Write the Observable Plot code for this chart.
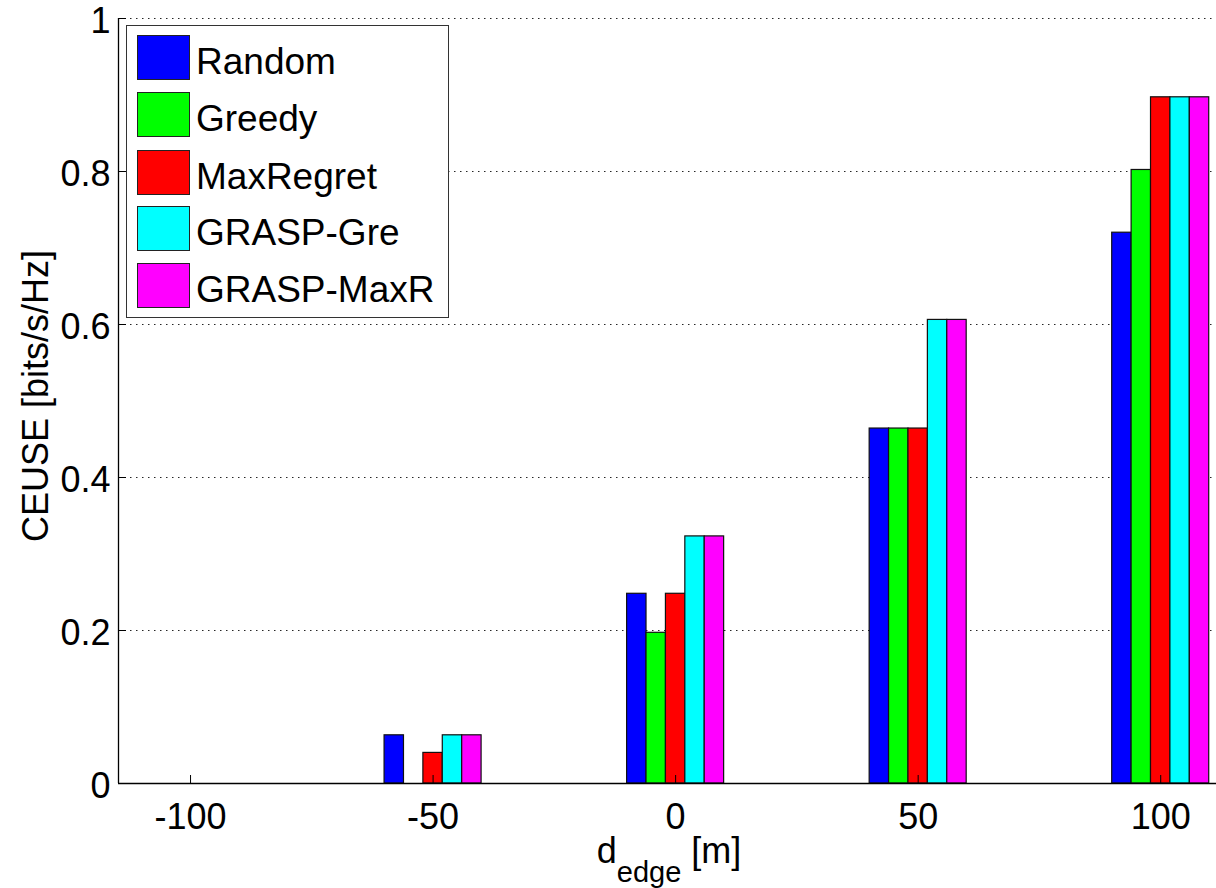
<!DOCTYPE html>
<html>
<head>
<meta charset="utf-8">
<script src="https://cdn.jsdelivr.net/npm/d3@7"></script>
<script src="https://cdn.jsdelivr.net/npm/@observablehq/plot@0.6"></script>
<style>
  html, body { margin: 0; padding: 0; background: #fff; }
  #wrap { position: relative; width: 1216px; height: 888px; overflow: hidden; font-family: "Liberation Sans", Arial, sans-serif; }
  #legend { position: absolute; left: 126px; top: 25px; width: 321px; height: 291px; border: 1.5px solid #333; background: #fff; box-sizing: content-box; }
  .item { position: absolute; left: 10px; height: 45px; display: flex; align-items: center; }
  .sw { width: 51px; height: 43px; border: 1px solid #222; margin-right: 6px; }
  .lab { font-size: 37px; color: #000; line-height: 1; position: relative; top: 4px; }
</style>
</head>
<body>
<div id="wrap"></div>
<script>
// ---- data ----
const dEdge = [-100, -50, 0, 50, 100];
const seriesNames = ["Random", "Greedy", "MaxRegret", "GRASP-Gre", "GRASP-MaxR"];
const seriesColors = ["#0000ff", "#00ff00", "#ff0000", "#00ffff", "#ff00ff"];
const random    = [0, 0.063, 0.248, 0.464, 0.720];
const greedy    = [0, 0,     0.197, 0.464, 0.802];
const maxRegret = [0, 0.040, 0.248, 0.464, 0.897];
const graspGre  = [0, 0.063, 0.323, 0.606, 0.897];
const graspMaxR = [0, 0.063, 0.323, 0.606, 0.897];
const yTicks = [0, 0.2, 0.4, 0.6, 0.8, 1];
const yTickLabels = ["0", "0.2", "0.4", "0.6", "0.8", "1"];
const xTicks = [-100, -50, 0, 50, 100];
const xTickLabels = ["-100", "-50", "0", "50", "100"];
const xDomain = [-114.85, 111.5];
const yDomain = [0, 1];
const barWidth = 4; // data units per bar
const yLabel = "CEUSE [bits/s/Hz]";

const allSeries = [random, greedy, maxRegret, graspGre, graspMaxR];
const bars = [];
allSeries.forEach((vals, i) => {
  vals.forEach((v, j) => {
    bars.push({
      series: seriesNames[i],
      d: dEdge[j],
      value: v,
      x1: dEdge[j] + (i - 2.5) * barWidth,
      x2: dEdge[j] + (i - 1.5) * barWidth
    });
  });
});

const chart = Plot.plot({
  width: 1216,
  height: 888,
  marginLeft: 118,
  marginRight: 0,
  marginTop: 18,
  marginBottom: 105,
  style: { fontFamily: "'Liberation Sans', Arial, sans-serif", fontSize: "36px", color: "#000", background: "#fff" },
  x: { type: "linear", domain: xDomain },
  y: { domain: yDomain },
  color: { domain: seriesNames, range: seriesColors },
  marks: [
    Plot.gridY(yTicks.slice(1), { stroke: "#000", strokeOpacity: 0.85, strokeDasharray: "1.5,4.5", strokeWidth: 1 }),
    Plot.rectY(bars, { x1: "x1", x2: "x2", y: "value", fill: "series", stroke: "#111", strokeWidth: 1.2 }),
    Plot.ruleX([xDomain[0]], { stroke: "#000", strokeWidth: 1.3 }),
    Plot.ruleY([0], { stroke: "#000", strokeWidth: 1.3 }),
    // inward ticks
    Plot.axisY(yTicks, { tickSize: 8, dx: 8, tickFormat: () => "", label: null, stroke: "#000" }),
    Plot.axisX(xTicks, { tickSize: 8, dy: -8, tickFormat: () => "", label: null, stroke: "#000" }),
    // tick labels
    Plot.axisY(yTicks, { tickSize: 0, tickPadding: 8, dy: 3, tickFormat: (d) => yTickLabels[yTicks.indexOf(d)], label: null, fontSize: 36 }),
    Plot.axisX(xTicks, { tickSize: 0, tickPadding: 20, tickFormat: (d) => xTickLabels[xTicks.indexOf(d)], label: null, fontSize: 36 })
  ]
});

const wrap = document.getElementById("wrap");
wrap.appendChild(chart);

// axis titles
const svg = d3.select(chart);
svg.append("text")
  .attr("transform", "translate(48,396) rotate(-90)")
  .attr("text-anchor", "middle")
  .attr("font-size", 36)
  .attr("fill", "#000")
  .text(yLabel);

const xl = svg.append("text")
  .attr("x", 669)
  .attr("y", 863)
  .attr("text-anchor", "middle")
  .attr("font-size", 36)
  .attr("fill", "#000");
xl.append("tspan").text("d");
xl.append("tspan").attr("font-size", 29).attr("dy", 19).text("edge");
xl.append("tspan").attr("dy", -19).text(" [m]");

// legend
const legend = document.createElement("div");
legend.id = "legend";
const tops = [9, 66, 124, 180, 237];
seriesNames.forEach((name, i) => {
  const it = document.createElement("div");
  it.className = "item";
  it.style.top = tops[i] + "px";
  const sw = document.createElement("div");
  sw.className = "sw";
  sw.style.background = seriesColors[i];
  const lab = document.createElement("span");
  lab.className = "lab";
  lab.textContent = name;
  it.appendChild(sw);
  it.appendChild(lab);
  legend.appendChild(it);
});
wrap.appendChild(legend);
</script>
</body>
</html>
